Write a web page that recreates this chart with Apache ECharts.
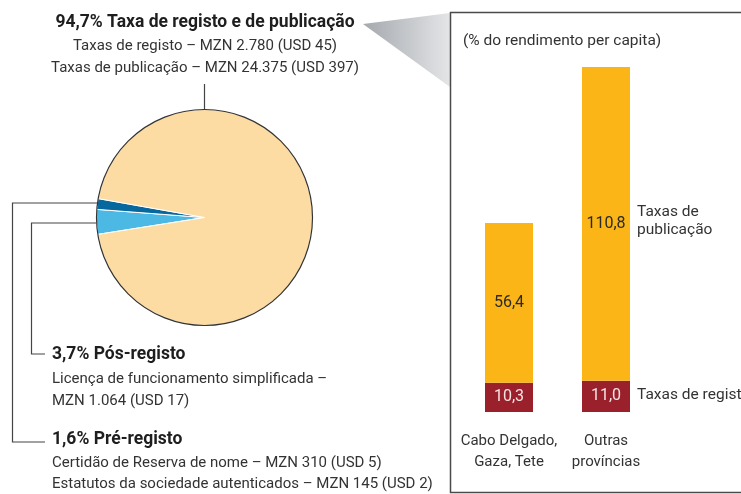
<!DOCTYPE html>
<html>
<head>
<meta charset="utf-8">
<script src="https://cdn.jsdelivr.net/npm/echarts@6/dist/echarts.min.js"></script>
<style>
html,body{margin:0;padding:0;background:#fff;}
#main{width:741px;height:494px;}
</style>
</head>
<body>
<div id="main"></div>
<script>
// pie: parts of the start-up cost
var pieNames = ['Pós-registo', 'Pré-registo', 'Taxa de registo e de publicação'];
var pieValues = [3.7, 1.6, 94.7];
var pieColors = ['#4cb8e4', '#07679f', '#fddca3'];

// bars: % of income per capita
var categories = ['Cabo Delgado,\nGaza, Tete', 'Outras\nprovíncias'];
var registo = [10.3, 11.0];
var publicacao = [56.4, 110.8];

var FONT = 'Roboto, "Noto Sans", sans-serif';
var TXT = '#333';

function fmt(p){
	return p.value.toFixed(1).replace('.', ',');
}
function txt(x, y, s, bold, align, size){
	return {
		type: 'text', x: x, y: y, silent: true,
		style: {
			text: s, fill: bold ? '#1e1e1e' : TXT,
			font: (bold ? 'bold 17.5px ' : (size || 15) + 'px ') + FONT,
			textAlign: align || 'left', textVerticalAlign: 'middle'
		}
	};
}
function line(pts){
	return {
		type: 'polyline', silent: true,
		shape: {points: pts},
		style: {stroke: '#444', lineWidth: 1.2, fill: null}
	};
}

var myChart = echarts.init(document.getElementById('main'));
var pieData = pieNames.map(function(n, i){
	return {name: n, value: pieValues[i], itemStyle: {color: pieColors[i]}};
});

option = {
	animation: false,
	textStyle: {fontFamily: FONT},
	grid: {left: 460.5, width: 194, top: 43.7, bottom: 82},
	xAxis: {
		type: 'category',
		data: categories,
		axisLine: {show: false},
		axisTick: {show: false},
		axisLabel: {interval: 0, color: TXT, fontSize: 15, lineHeight: 21, margin: 19}
	},
	yAxis: {
		type: 'value', min: 0, max: 130,
		show: false, splitLine: {show: false}
	},
	series: [
		{
			name: 'Taxas de registo',
			type: 'bar', stack: 't', barWidth: 48,
			itemStyle: {color: '#9a212c'},
			label: {show: true, position: 'inside', color: '#f6e3e3', fontSize: 16, formatter: fmt},
			data: registo
		},
		{
			name: 'Taxas de publicação',
			type: 'bar', stack: 't', barWidth: 48,
			itemStyle: {color: '#fbb517'},
			label: {show: true, position: 'inside', color: '#2a2a2a', fontSize: 16, formatter: fmt},
			data: publicacao
		},
		{
			type: 'pie',
			center: [204.5, 217.5],
			radius: 108,
			startAngle: 189,
			clockwise: true,
			silent: true,
			label: {show: false},
			labelLine: {show: false},
			itemStyle: {borderColor: '#fff', borderWidth: 1},
			data: pieData
		}
	],
	graphic: [
		{
			type: 'polygon', silent: true,
			shape: {points: [[363, 24], [450, 13], [450, 87]]},
			style: {fill: new echarts.graphic.LinearGradient(0, 0, 1, 0, [
				{offset: 0, color: '#a4a9ae'}, {offset: 1, color: '#e4e5e7'}
			])}
		},
		{
			type: 'rect', silent: true,
			shape: {x: 450.5, y: 12.5, width: 330, height: 480},
			style: {fill: null, stroke: '#4a4a4a', lineWidth: 1.5}
		},
		{
			type: 'circle', silent: true, z: 10,
			shape: {cx: 204.5, cy: 217.5, r: 108},
			style: {fill: null, stroke: '#333', lineWidth: 1.2}
		},
		line([[204.5, 84], [204.5, 109]]),
		line([[97, 203], [12.5, 203], [12.5, 442], [45, 442]]),
		line([[97, 223], [31.5, 223], [31.5, 354], [45, 354]]),
		txt(205, 23, '94,7% Taxa de registo e de publicação', true, 'center'),
		txt(205, 46, 'Taxas de registo – MZN 2.780 (USD 45)', false, 'center'),
		txt(205, 68, 'Taxas de publicação – MZN 24.375 (USD 397)', false, 'center'),
		txt(52, 355, '3,7% Pós-registo', true),
		txt(52, 379, 'Licença de funcionamento simplificada –'),
		txt(52, 401, 'MZN 1.064 (USD 17)'),
		txt(52, 440, '1,6% Pré-registo', true),
		txt(52, 463, 'Certidão de Reserva de nome – MZN 310 (USD 5)'),
		txt(52, 484, 'Estatutos da sociedade autenticados – MZN 145 (USD 2)'),
		txt(463, 41, '(% do rendimento per capita)', false, 'left', 15.5),
		txt(637, 212, 'Taxas de', false, 'left', 15.5),
		txt(637, 230, 'publicação', false, 'left', 15.5),
		txt(637, 395, 'Taxas de registo', false, 'left', 15.5)
	]
};
myChart.setOption(option);
</script>
</body>
</html>
